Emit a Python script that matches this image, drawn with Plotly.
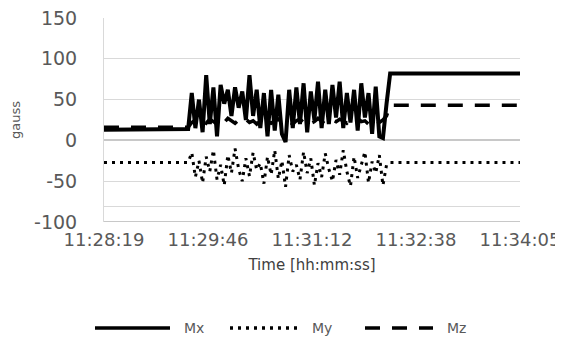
import plotly.graph_objects as go

# time in seconds after 11:28:19
t_sec = [0, 20, 40, 60, 67,
         70, 73, 76, 79, 82, 85, 88, 91, 94, 97,
         100, 103, 106, 109, 112, 115, 118, 121, 124, 127,
         130, 133, 136, 139, 142, 145, 148, 151, 154, 157,
         160, 163, 166, 169, 172, 175, 178, 181, 184, 187,
         190, 193, 196, 199, 202, 205, 208, 211, 214, 217,
         220, 223, 226, 229, 232, 235,
         238, 270, 300, 330, 346]

mx = [13, 13, 13, 13, 13,
      14, 58, 15, 50, 10, 80, 20, 65, 5, 68,
      45, 62, 30, 65, 40, 60, 25, 80, 30, 62,
      15, 58, 5, 62, 12, 56, 8, -2, 62, 15,
      65, 20, 70, 10, 60, 25, 72, 15, 62, 20,
      68, 28, 72, 15, 58, 22, 62, 12, 70, 28,
      58, 8, 66, 5, 3, 45,
      82, 82, 82, 82, 82]

my = [-27, -27, -27, -27, -27,
      -27, -15, -45, -25, -52, -20, -38, -12, -48, -30,
      -55, -18, -40, -10, -35, -50, -22, -44, -15, -36,
      -28, -53, -20, -42, -12, -47, -25, -57, -18, -38,
      -30, -48, -14, -40, -22, -55, -28, -45, -16, -35,
      -50, -24, -42, -12, -38, -56, -20, -46, -30, -14,
      -52, -26, -40, -18, -55, -30,
      -27, -27, -27, -27, -27]

mz = [16, 16, 16, 16, 16,
      16, 22, 25, 20, 24, 21, 26, 23, 20, 25,
      22, 27, 24, 21, 25, 23, 26, 22, 24, 20,
      25, 27, 23, 21, 24, 26, 22, 25, 23, 20,
      24, 26, 22, 25, 21, 23, 27, 24, 20, 22,
      25, 23, 26, 24, 21, 25, 22, 27, 23, 24,
      20, 26, 24, 22, 25, 30,
      43, 43, 43, 43, 43]

tick_vals = [0, 86.5, 173, 259.5, 346]
tick_text = ["11:28:19", "11:29:46", "11:31:12", "11:32:38", "11:34:05"]
y_vals = [-100, -50, 0, 50, 100, 150]
y_text = ["-100", "-50", "0", "50", "100", "150"]

series = [("Mx", mx, "solid"), ("My", my, "3px,5px"), ("Mz", mz, "15px,12px")]
widths = {"Mx": 4, "My": 3, "Mz": 3.5}

fig = go.Figure()
for name, vals, dash in series:
    fig.add_trace(go.Scatter(x=t_sec, y=vals, name=name, mode="lines",
                             line=dict(color="black", width=widths[name], dash=dash)))

grid = "#d9d9d9"
# the page body adds an 8px margin, so the figure is 8px smaller than the window
fig.update_layout(
    width=555, height=332,
    margin=dict(l=96, r=43, t=10, b=118),
    paper_bgcolor="white", plot_bgcolor="white",
    font=dict(family="DejaVu Sans", color="#595959"),
    showlegend=False,
    xaxis=dict(range=[0, 346], tickvals=tick_vals, ticktext=tick_text,
               showgrid=False, zeroline=False, showline=False, automargin=False,
               ticks="outside", ticklen=1, tickcolor="rgba(0,0,0,0)",
               ticklabeloverflow="allow",
               tickfont=dict(size=18, color="#595959"),
               title=dict(text="Time [hh:mm:ss]", font=dict(size=15, color="#404040"),
                          standoff=10)),
    yaxis=dict(range=[-100, 150], tickvals=y_vals, ticktext=y_text,
               showgrid=True, gridcolor=grid, gridwidth=1,
               zeroline=True, zerolinecolor="#c8c8c8", zerolinewidth=2,
               showline=True, linecolor=grid, linewidth=1, automargin=False,
               ticks="outside", ticklen=22, tickcolor="rgba(0,0,0,0)",
               ticklabeloverflow="allow",
               tickfont=dict(size=19, color="#595959"),
               title=dict(text="gauss", font=dict(size=13, color="#595959"), standoff=12)),
)
# bottom axis line and the extra faint line near the bottom
fig.add_shape(type="line", xref="paper", yref="y", x0=0, x1=1, y0=-100, y1=-100,
              line=dict(color="#c8c8c8", width=2), layer="below")
fig.add_shape(type="line", xref="paper", yref="y", x0=0, x1=1, y0=-81, y1=-81,
              line=dict(color=grid, width=1), layer="below")

# legend drawn below the plot (page pixel positions converted to paper coords)
plot_w, plot_h, left, bottom_px = 416, 204, 104, 222
def px(xp):
    return (xp - left) / plot_w
leg_y = (bottom_px - 328) / plot_h
legend_items = [("Mx", 95, 170, "solid"), ("My", 230, 298, "3px,5px"), ("Mz", 365, 433, "15px,12px")]
for name, x0, x1, dash in legend_items:
    fig.add_shape(type="line", xref="paper", yref="paper", x0=px(x0), x1=px(x1),
                  y0=leg_y, y1=leg_y, line=dict(color="black", width=3.5, dash=dash))
    fig.add_annotation(text=name, xref="paper", yref="paper", x=px(x1 + 12), y=leg_y,
                       xanchor="left", yanchor="middle", showarrow=False,
                       font=dict(size=14, color="#595959"))

fig.write_html("out.html")
